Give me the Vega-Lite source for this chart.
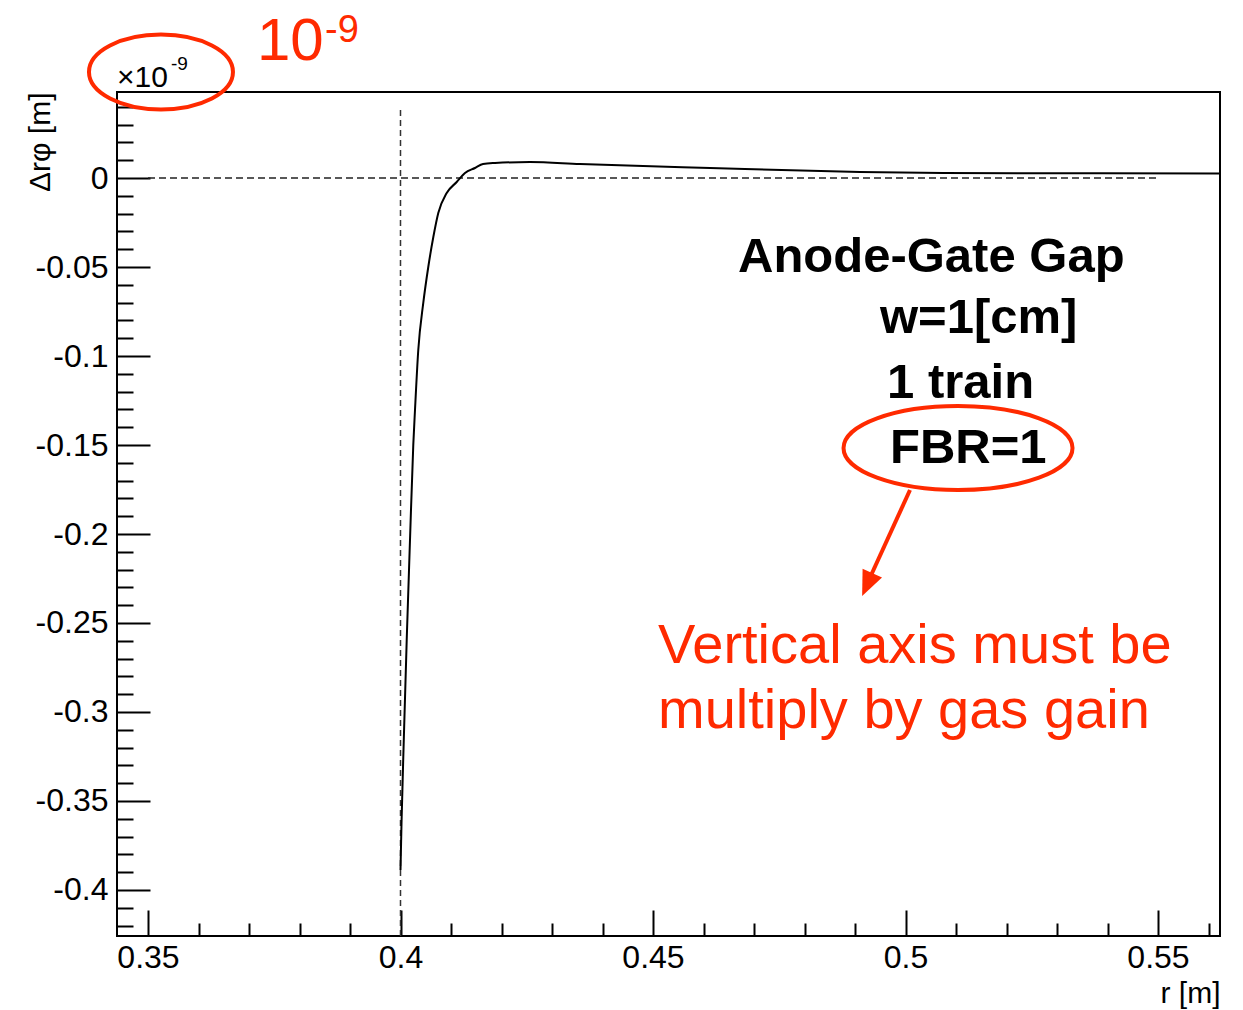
{
  "$schema": "https://vega.github.io/schema/vega-lite/v6.json",
  "autosize": {"type": "none"},
  "padding": {"left": 117, "top": 92, "right": 23, "bottom": 74},
  "width": 1103,
  "height": 844,
  "background": "white",
  "config": {
    "view": {"stroke": "black", "strokeWidth": 2},
    "font": "Liberation Sans"
  },
  "datasets": {
    "curve": [
      {"r": 0.40000, "v": -0.38876},
      {"r": 0.40020, "v": -0.36236},
      {"r": 0.40065, "v": -0.31573},
      {"r": 0.40123, "v": -0.25955},
      {"r": 0.40188, "v": -0.20337},
      {"r": 0.40253, "v": -0.15000},
      {"r": 0.40287, "v": -0.13034},
      {"r": 0.40352, "v": -0.09663},
      {"r": 0.40451, "v": -0.07022},
      {"r": 0.40550, "v": -0.05000},
      {"r": 0.40650, "v": -0.03315},
      {"r": 0.40748, "v": -0.01966},
      {"r": 0.40915, "v": -0.00843},
      {"r": 0.41113, "v": -0.00225},
      {"r": 0.41277, "v": 0.00281},
      {"r": 0.41475, "v": 0.00562},
      {"r": 0.41634, "v": 0.00787},
      {"r": 0.41871, "v": 0.00843},
      {"r": 0.42564, "v": 0.00899},
      {"r": 0.43554, "v": 0.00787},
      {"r": 0.46129, "v": 0.00562},
      {"r": 0.49099, "v": 0.00337},
      {"r": 0.50743, "v": 0.00281},
      {"r": 0.56228, "v": 0.00253}
    ],
    "hline": [{"r": 0.35, "r2": 0.55, "v": 0}],
    "vline": [{"r": 0.4, "v": -0.4258, "v2": 0.0405}],
    "blackNotes": [
      {"r": 0.46683, "v": -0.05281, "label": "Anode-Gate Gap"},
      {"r": 0.49495, "v": -0.08708, "label": "w=1[cm]"},
      {"r": 0.49634, "v": -0.12360, "label": "1 train"},
      {"r": 0.49693, "v": -0.16011, "label": "FBR=1"}
    ],
    "redNotes": [
      {"r": 0.45099, "v": -0.27247, "label": "Vertical axis must be"},
      {"r": 0.45099, "v": -0.30899, "label": "multiply by gas gain"}
    ],
    "redBase": [{"r": 0.37158, "v": 0.06629, "label": "10"}],
    "redExp": [{"r": 0.38505, "v": 0.07640, "label": "-9"}],
    "multBase": [{"r": 0.34386, "v": 0.05112, "label": "×10"}],
    "multExp": [{"r": 0.35455, "v": 0.06067, "label": "-9"}],
    "ellipse1": [{"r": 0.35257, "v": 0.05955}],
    "ellipse2": [{"r": 0.51040, "v": -0.15169}],
    "arrowShaft": [{"r": 0.50089, "v": -0.17528, "r2": 0.49257, "v2": -0.22697}],
    "arrowHead": [{"r": 0.49242, "v": -0.22843}]
  },
  "encoding": {
    "x": {
      "field": "r",
      "type": "quantitative",
      "scale": {"domain": [0.343861, 0.562277], "nice": false, "zero": false},
      "axis": {
        "values": [0.35, 0.36, 0.37, 0.38, 0.39, 0.4, 0.41, 0.42, 0.43, 0.44, 0.45, 0.46, 0.47, 0.48, 0.49, 0.5, 0.51, 0.52, 0.53, 0.54, 0.55, 0.56],
        "labelExpr": "abs(datum.value*20 - round(datum.value*20)) < 0.001 ? '' + datum.value : ''",
        "tickSize": {"condition": {"test": "abs(datum.value*20 - round(datum.value*20)) < 0.001", "value": -26}, "value": -13},
        "tickColor": "black",
        "tickWidth": 2,
        "domain": false,
        "grid": false,
        "labelFont": "Liberation Sans",
        "labelFontSize": 32,
        "labelColor": "black",
        "labelPadding": 32,
        "labelFlush": false,
        "labelOverlap": false,
        "title": "r [m]",
        "titleAnchor": "end",
        "titleFont": "Liberation Sans",
        "titleFontSize": 30,
        "titleFontWeight": "normal",
        "titleColor": "black",
        "titlePadding": -8
      }
    },
    "y": {
      "field": "v",
      "type": "quantitative",
      "scale": {"domain": [-0.425843, 0.048315], "nice": false, "zero": false},
      "axis": {
        "values": [-0.42, -0.41, -0.4, -0.39, -0.38, -0.37, -0.36, -0.35, -0.34, -0.33, -0.32, -0.31, -0.3, -0.29, -0.28, -0.27, -0.26, -0.25, -0.24, -0.23, -0.22, -0.21, -0.2, -0.19, -0.18, -0.17, -0.16, -0.15, -0.14, -0.13, -0.12, -0.11, -0.1, -0.09, -0.08, -0.07, -0.06, -0.05, -0.04, -0.03, -0.02, -0.01, 0, 0.01, 0.02, 0.03, 0.04],
        "labelExpr": "abs(datum.value*20 - round(datum.value*20)) < 0.001 ? '' + datum.value : ''",
        "tickSize": {"condition": {"test": "abs(datum.value*20 - round(datum.value*20)) < 0.001", "value": -33}, "value": -16},
        "tickColor": "black",
        "tickWidth": 2,
        "domain": false,
        "grid": false,
        "labelFont": "Liberation Sans",
        "labelFontSize": 32,
        "labelColor": "black",
        "labelPadding": 42,
        "labelFlush": false,
        "labelOverlap": false,
        "title": "Δrφ [m]",
        "titleAnchor": "end",
        "titleFont": "Liberation Sans",
        "titleFontSize": 30,
        "titleFontWeight": "normal",
        "titleColor": "black",
        "titleX": -62
      }
    }
  },
  "layer": [
    {
      "data": {"name": "hline"},
      "mark": {"type": "rule", "color": "#222222", "strokeWidth": 1.5, "strokeDash": [7, 4]},
      "encoding": {"x2": {"field": "r2"}}
    },
    {
      "data": {"name": "vline"},
      "mark": {"type": "rule", "color": "#333333", "strokeWidth": 1.5, "strokeDash": [6, 4]},
      "encoding": {"y2": {"field": "v2"}}
    },
    {
      "data": {"name": "curve"},
      "mark": {"type": "line", "color": "black", "strokeWidth": 2, "interpolate": "monotone"},
      "encoding": {}
    },
    {
      "data": {"name": "blackNotes"},
      "mark": {"type": "text", "align": "left", "baseline": "alphabetic", "font": "Liberation Sans", "fontSize": 49, "fontWeight": "bold", "color": "black"},
      "encoding": {"text": {"field": "label"}}
    },
    {
      "data": {"name": "redNotes"},
      "mark": {"type": "text", "align": "left", "baseline": "alphabetic", "font": "Liberation Sans", "fontSize": 56, "color": "#ff2a00"},
      "encoding": {"text": {"field": "label"}}
    },
    {
      "data": {"name": "redBase"},
      "mark": {"type": "text", "align": "left", "baseline": "alphabetic", "font": "Liberation Sans", "fontSize": 60, "color": "#ff2a00"},
      "encoding": {"text": {"field": "label"}}
    },
    {
      "data": {"name": "redExp"},
      "mark": {"type": "text", "align": "left", "baseline": "alphabetic", "font": "Liberation Sans", "fontSize": 38, "color": "#ff2a00"},
      "encoding": {"text": {"field": "label"}}
    },
    {
      "data": {"name": "multBase"},
      "mark": {"type": "text", "align": "left", "baseline": "alphabetic", "font": "Liberation Sans", "fontSize": 30, "color": "black"},
      "encoding": {"text": {"field": "label"}}
    },
    {
      "data": {"name": "multExp"},
      "mark": {"type": "text", "align": "left", "baseline": "alphabetic", "font": "Liberation Sans", "fontSize": 19, "color": "black"},
      "encoding": {"text": {"field": "label"}}
    },
    {
      "data": {"name": "ellipse1"},
      "mark": {"type": "point", "shape": "M-1,0A1,0.52 0 1,0 1,0A1,0.52 0 1,0 -1,0Z", "size": 20736, "filled": false, "stroke": "#ff2a00", "strokeWidth": 4, "opacity": 1}
    },
    {
      "data": {"name": "ellipse2"},
      "mark": {"type": "point", "shape": "M-1,0A1,0.367 0 1,0 1,0A1,0.367 0 1,0 -1,0Z", "size": 52441, "filled": false, "stroke": "#ff2a00", "strokeWidth": 4, "opacity": 1}
    },
    {
      "data": {"name": "arrowShaft"},
      "mark": {"type": "rule", "color": "#ff2a00", "strokeWidth": 4},
      "encoding": {"x2": {"field": "r2"}, "y2": {"field": "v2"}}
    },
    {
      "data": {"name": "arrowHead"},
      "mark": {"type": "point", "shape": "M0,-1L0.85,1L-0.85,1Z", "size": 625, "angle": 204, "filled": true, "fill": "#ff2a00", "strokeWidth": 0, "opacity": 1}
    }
  ]
}
